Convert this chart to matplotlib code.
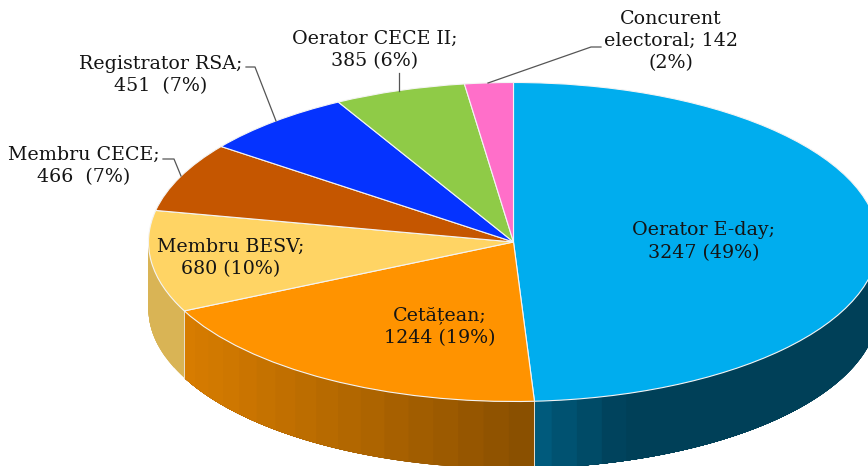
"""Pie chart with a fake 3D wall."""
import matplotlib
matplotlib.use('Agg')
import matplotlib.pyplot as plt
import numpy as np

names = ["Oerator E-day", "Cetățean", "Membru BESV", "Membru CECE",
         "Registrator RSA", "Oerator CECE II", "Concurent electoral"]
values = [3247, 1244, 680, 466, 451, 385, 142]
labels = ["Oerator E-day;\n3247 (49%)", "Cetățean;\n1244 (19%)", "Membru BESV;\n680 (10%)",
          "Membru CECE;\n466  (7%)", "Registrator RSA;\n451  (7%)", "Oerator CECE II;\n385 (6%)",
          "Concurent\nelectoral; 142\n(2%)"]
colors = ['#00ADEE', '#FF9300', '#FFD464', '#C55600', '#0533FF', '#8FCB47', '#FF6FC9']

width = 868
height = 466
cx = 513.5
cy = 242
rx = 365
ry = 159.5
depth = 67 / ry
font_px = 19

label_pos = [(704, 241.5), (440, 326.5), (231, 258), (84, 166), (161, 75), (375, 50), (671, 41)]
leaders = [[(246, 67), (255, 67), (276, 121)],
           [(163, 159), (174, 159), (181, 176)],
           [(399, 73), (399, 91)],
           [(601, 47), (591, 47), (488, 83)]]

fig = plt.figure(figsize=(width / 100, height / 100), dpi=100)
ax = fig.add_axes([0, 0, 1, 1])

# wall first, the pie goes on top of it
shares = np.cumsum([0] + values) / sum(values) * 360
for i, col in enumerate(colors):
    start = max(shares[i], 90)
    stop = min(shares[i + 1], 270)
    if start >= stop:
        continue
    rgb = np.array(matplotlib.colors.to_rgb(col))
    for a in np.arange(start, stop, 4.0):
        # each band runs to the end of the slice so the next one overlaps it, no seams
        th = np.radians(np.linspace(a, stop, 60))
        xs = np.sin(th)
        ys = np.cos(th)
        mid = cx + rx * np.sin(np.radians(a + 2))
        shade = np.interp(mid, [183, 534, 625], [0.85, 0.53, 0.37])
        ax.fill(np.r_[xs, xs[::-1]], np.r_[ys, ys[::-1] - depth], color=rgb * shade, lw=0, zorder=1 + i * 0.01)
    if stop < 270:
        xb = np.sin(np.radians(stop))
        yb = np.cos(np.radians(stop))
        ax.plot([xb, xb], [yb, yb - depth], color='#e8e0d0', lw=0.7, zorder=2)

ax.pie(values, colors=colors, startangle=90, counterclock=False, radius=1,
       wedgeprops={'edgecolor': '#f4f4f4', 'linewidth': 0.8, 'zorder': 3})

# squash the circle into the ellipse seen in the view
ax.set_aspect('auto')
ax.set_xlim(-cx / rx, (width - cx) / rx)
ax.set_ylim((cy - height) / ry, cy / ry)

for txt, (x, y) in zip(labels, label_pos):
    fig.text(x / width, 1 - y / height, txt, ha='center', va='center', family='DejaVu Serif',
             fontsize=font_px * 0.72, color='#141414', linespacing=1.32)

for pts in leaders:
    xs = [p[0] / width for p in pts]
    ys = [1 - p[1] / height for p in pts]
    fig.add_artist(plt.Line2D(xs, ys, color='#555555', lw=0.9, transform=fig.transFigure))

fig.savefig('out.png', dpi=100)
